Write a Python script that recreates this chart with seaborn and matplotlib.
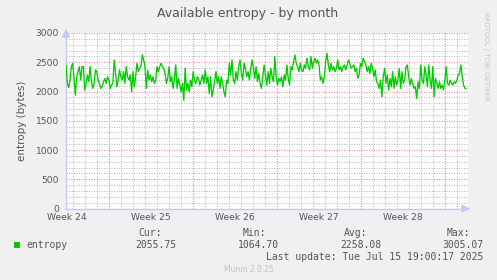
import numpy as np
import pandas as pd
import matplotlib
matplotlib.use("Agg")
import matplotlib.pyplot as plt
import matplotlib.dates as mdates
import matplotlib.ticker as mticker
import seaborn as sns

# ---- data ----
entropy_values = [
    2454, 2138, 2069, 2195, 2425, 2483, 2224, 1937, 2253, 2339, 2425, 2195, 2425, 2425, 2023, 2138,
    2282, 2167, 2425, 2167, 2052, 2138, 2368, 2339, 2195, 2138, 2052, 2080, 2167, 2224, 2138, 2253,
    2195, 2052, 2109, 2138, 2540, 2310, 2080, 2195, 2368, 2253, 2195, 2339, 2138, 2425, 2253, 2195,
    2282, 1994, 2339, 2080, 2253, 2483, 2339, 2397, 2425, 2626, 2540, 2425, 2052, 2368, 2195, 2282,
    2167, 2253, 2138, 2195, 2425, 2339, 2425, 2483, 2425, 2397, 2310, 2138, 2224, 2425, 2167, 2253,
    2052, 2224, 2454, 2052, 2224, 2109, 1994, 2138, 1851, 2397, 2023, 2138, 1994, 2195, 2080, 2339,
    2195, 2138, 2253, 2224, 2109, 2195, 2282, 2138, 2368, 2138, 2253, 1966, 2253, 1908, 2023, 2167,
    2339, 2138, 2253, 2052, 2253, 2138, 1994, 1908, 2195, 2138, 2483, 2282, 2540, 2195, 2138, 2339,
    2195, 2425, 2540, 2310, 2195, 2483, 2397, 2253, 2339, 2195,
    2397, 2540, 2397, 2224, 2425, 2167, 2310, 2138, 2052, 2253, 2454, 2282, 2109, 2339, 2138, 2397,
    2253, 2167, 2598, 2253, 2109, 2224, 2167, 2253, 2080, 2282, 2195, 2454, 2224, 2109, 2425, 2368,
    2511, 2626, 2483, 2425, 2339, 2483, 2368, 2339, 2454, 2397, 2569, 2425, 2368, 2598, 2397, 2511,
    2569, 2483, 2540, 2454, 2195, 2253, 2138, 2253, 2511, 2655, 2454, 2339, 2483, 2368, 2425, 2339,
    2397, 2540, 2368, 2425, 2339, 2425, 2454, 2368, 2454, 2540, 2483, 2397, 2425, 2454, 2339, 2397,
    2224, 2282, 2483, 2425, 2569, 2511, 2454, 2339, 2425, 2310, 2483, 2397, 2253, 2368, 2167, 2138,
    2052, 2195, 1908, 2253, 2397, 2138, 2282, 2023, 2224, 2080, 2339, 2052, 2253, 2109, 2195, 2397,
    2052, 2339, 2138, 2195, 2425, 2454, 2253, 2109, 2224, 2138, 2052, 2080, 1879, 2167, 2052, 2454,
    2195, 2138, 2425, 2282, 2080, 2454, 2195, 2052, 2425, 1908, 2224, 2138, 2052, 2167, 2052, 2109,
    2023, 2195, 2425, 2138, 2109, 2195, 2138, 2109, 2167, 2138, 2195, 2282, 2310, 2454, 2253, 2109,
    2052, 2052,
]
data_start = "2025-06-12 10:30"
data_end = "2025-07-15 19:00"
view_start = "2025-06-12 10:30"
view_end = "2025-07-15 22:30"
week_labels = ["Week 24", "Week 25", "Week 26", "Week 27", "Week 28"]
week_label_dates = ["2025-06-12 12:00", "2025-06-19 12:00", "2025-06-26 12:00",
                    "2025-07-03 12:00", "2025-07-10 12:00"]
week_start_dates = ["2025-06-16", "2025-06-23", "2025-06-30", "2025-07-07", "2025-07-14"]
stat_names = ["Cur:", "Min:", "Avg:", "Max:"]
stat_values = ["2055.75", "1064.70", "2258.08", "3005.07"]
series_name = "entropy"
title = "Available entropy - by month"
ylabel = "entropy (bytes)"
last_update = "Last update: Tue Jul 15 19:00:17 2025"

times = pd.date_range(data_start, data_end, periods=len(entropy_values))
df = pd.DataFrame({"time": times, "entropy": entropy_values})

sns.set_theme(style="white")
plt.rcParams["font.family"] = ["DejaVu Sans"]

W, H = 497, 280
fig = plt.figure(figsize=(W / 100, H / 100), dpi=100, facecolor="#f0f0f0")
ax = fig.add_axes([66 / W, 1 - 208.5 / H, (468 - 66) / W, (208.5 - 33) / H])
ax.set_facecolor("white")

grid_gray = "#bdbdbd"
grid_red = "#f29090"
axis_col = "#c8c8f4"
text_col = "#555555"
dots = (0, (1, 1.4))

# minor grids (days / 100s)
ax.xaxis.set_minor_locator(mdates.DayLocator())
ax.yaxis.set_minor_locator(mticker.MultipleLocator(100))
ax.yaxis.set_major_locator(mticker.MultipleLocator(500))
ax.grid(which="minor", axis="both", color=grid_gray, linestyle=dots, linewidth=0.75)
ax.grid(which="major", axis="y", color=grid_red, linestyle=dots, linewidth=0.75)
for d in week_start_dates:
    ax.axvline(pd.Timestamp(d), color=grid_red, linestyle=dots, linewidth=0.75, zorder=1.5)
ax.set_axisbelow(True)

sns.lineplot(data=df, x="time", y="entropy", ax=ax, color="#00cc00", linewidth=0.95, zorder=3)

ax.set_xlim(pd.Timestamp(view_start), pd.Timestamp(view_end))
ax.set_ylim(0, 3000)
ax.set_xticks([pd.Timestamp(d) for d in week_label_dates])
ax.set_xticklabels(week_labels)
ax.set_xlabel("")
ax.set_ylabel(ylabel, fontsize=7.5, color=text_col, labelpad=6)

ax.tick_params(axis="both", which="major", labelsize=6.6, labelcolor=text_col, length=0)
ax.tick_params(axis="x", which="major", pad=3.2)
ax.tick_params(axis="y", which="major", pad=5)
ax.tick_params(axis="x", which="minor", length=2, color=axis_col, direction="in", width=0.7)
ax.tick_params(axis="y", which="minor", length=0)

for s in ["top", "right"]:
    ax.spines[s].set_visible(False)
for s in ["left", "bottom"]:
    ax.spines[s].set_color(axis_col)
    ax.spines[s].set_linewidth(1.0)

# axis arrows
ax.annotate("", xy=(0, 1.04), xytext=(0, 0.99), xycoords="axes fraction",
            arrowprops=dict(arrowstyle="-|>,head_width=0.2,head_length=0.4", color=axis_col, lw=1))
ax.annotate("", xy=(1.012, 0), xytext=(0.995, 0), xycoords="axes fraction",
            arrowprops=dict(arrowstyle="-|>,head_width=0.2,head_length=0.4", color=axis_col, lw=1))

fig.text(248 / W, 1 - 13 / H, title, ha="center", va="center", fontsize=9, color=text_col)
fig.text(486 / W, 1 - 56 / H, "RRDTOOL / TOBI OETIKER", rotation=270, ha="center", va="center",
         fontsize=5, color="#c4c4c4")

mono = "DejaVu Sans Mono"
fig.patches.append(plt.Rectangle((14 / W, 1 - 248 / H), 6 / W, 6 / H, transform=fig.transFigure,
                                 facecolor="#00cc00", edgecolor="none"))
fig.text(26.5 / W, 1 - 245.5 / H, series_name, ha="left", va="center", fontsize=7, family=mono, color=text_col)
header_right = [162, 266, 367, 470]
value_right = [176, 279, 381, 483]
for name, val, hr, vr in zip(stat_names, stat_values, header_right, value_right):
    fig.text(hr / W, 1 - 233 / H, name, ha="right", va="center", fontsize=7, family=mono, color=text_col)
    fig.text(vr / W, 1 - 245.5 / H, val, ha="right", va="center", fontsize=7, family=mono, color=text_col)
fig.text(483 / W, 1 - 257.5 / H, last_update, ha="right", va="center", fontsize=7, family=mono, color=text_col)
fig.text(249 / W, 1 - 269 / H, "Munin 2.0.25", ha="center", va="center", fontsize=5.5, color="#c0c0c0")

fig.savefig("out.png", dpi=100, facecolor=fig.get_facecolor())
